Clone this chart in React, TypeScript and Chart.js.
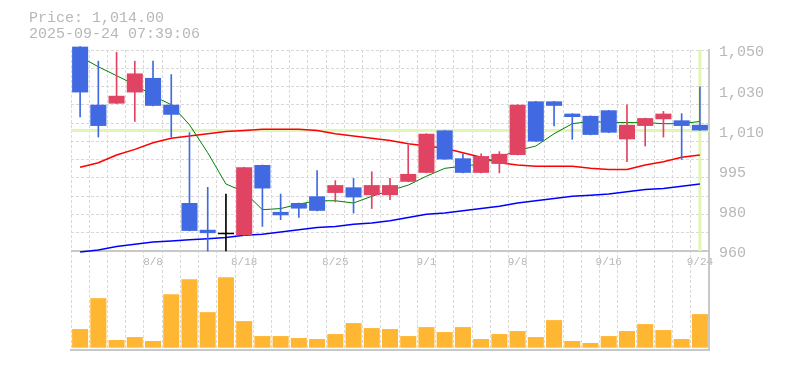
import React, { useEffect, useRef } from 'react';
import { Chart, registerables } from 'chart.js';

Chart.register(...registerables);

// ---- data ----
const dates = ['8/4', '8/5', '8/6', '8/7', '8/8', '8/12', '8/13', '8/14', '8/15', '8/18', '8/19', '8/20', '8/21', '8/22', '8/25', '8/26', '8/27', '8/28', '8/29', '9/1', '9/2', '9/3', '9/4', '9/5', '9/8', '9/9', '9/10', '9/11', '9/12', '9/16', '9/17', '9/18', '9/19', '9/22', '9/24'];
const opens = [1051.5, 1025.5, 1026, 1031, 1037.5, 1025.5, 981.5, 969.5, 967.5, 967, 998.5, 977.5, 981.5, 984.5, 986, 988.5, 985, 985, 991, 995, 1014, 1001.5, 995, 999, 1003, 1027, 1027, 1021.5, 1020.5, 1023, 1010, 1016, 1019, 1018.5, 1016.5];
const highs = [1051.5, 1045, 1049, 1045, 1045, 1039, 1013, 988.5, 985.5, 997.5, 998.5, 985.5, 981.5, 996, 991.5, 992.5, 995.5, 992.5, 1007.5, 1012.5, 1014, 1003.5, 1003.5, 1004.5, 1025.5, 1027, 1027, 1021.5, 1020.5, 1023, 1025.5, 1019.5, 1022.5, 1021.5, 1033.5];
const lows = [1020, 1011, 1026, 1018, 1025, 1011, 969, 960, 960, 967, 971, 974, 975, 978, 982, 977, 979, 983, 991, 995, 1001, 995, 995, 995, 1003, 1009, 1016, 1010, 1012, 1013, 1000, 1007, 1011, 1001, 1014];
const closes = [1031, 1016, 1029.5, 1039.5, 1025, 1021, 969, 968, 967.5, 997.5, 988, 976, 979, 978, 989.5, 984, 989.5, 989.5, 994.5, 1012.5, 1001, 995, 1002.5, 1003.5, 1025.5, 1009, 1025, 1020, 1012, 1013, 1016.5, 1019.5, 1021.5, 1016, 1014];
const volumes = [18700, 49700, 7700, 10700, 6700, 53700, 68700, 35700, 70700, 26700, 11700, 11700, 9700, 8700, 13700, 24700, 19700, 18700, 11700, 20700, 15700, 20700, 8700, 13700, 16700, 10700, 27700, 6700, 4700, 11700, 16700, 23700, 17700, 8700, 33700];
const ma5 = [1047, 1042.5, 1038.5, 1034.5, 1029.5, 1025.5, 1016.5, 1004, 990, 986.5, 978.5, 979, 981, 982.5, 982.5, 981.5, 984.5, 987, 989.5, 993.5, 997, 998, 999, 1002, 1005, 1007, 1012.5, 1017, 1018, 1017.5, 1017.5, 1017.5, 1017, 1017, 1018];
const ma25 = [997.5, 999.5, 1003, 1005.5, 1008.5, 1010.5, 1011.5, 1012.5, 1013.5, 1014, 1014.5, 1014.5, 1014.5, 1014, 1012.5, 1011.5, 1010.5, 1009.5, 1008, 1007, 1006, 1004, 1002, 999.5, 998.5, 998, 998, 998, 997, 996.5, 996.5, 998.5, 1000, 1002, 1003];
const ma75 = [959.5, 960.5, 962, 963, 964, 964.5, 965, 965.5, 966, 967, 967.5, 968.5, 969.5, 970.5, 971, 972, 972.5, 973.5, 975, 976.5, 977, 978, 979, 980, 981.5, 982.5, 983.5, 984.5, 985, 985.5, 986.5, 987.5, 988, 989, 990];

const yTickValues = [1050, 1032, 1014, 996, 978, 960];
const yTickLabels = ['1,050', '1,030', '1,010', '995', '980', '960'];
const xTickLabels = ['8/8', '8/18', '8/25', '9/1', '9/8', '9/16', '9/24'];
const titleLines = ['Price: 1,014.00', '2025-09-24 07:39:06'];
const currentPrice = 1014;
const currentDate = '9/24';
const priceMin = 960;
const priceMax = 1050;
const volMin = -2300;
const volMax = 97000;

// ---- styles ----
const UP = '#e04462';
const DOWN = '#4169e1';
const EVEN = '#000000';
const GRID = '#d9d9d9';
const AXIS = '#c8c8c8';
const TEXT = '#b8b8b8';
const NOW = '#e3f5b3';
const VOL = '#ffb733';
const MONO = "'Liberation Mono', monospace";

export default function App() {
  const ref = useRef<HTMLCanvasElement>(null);

  useEffect(() => {
    const canvas = ref.current;
    if (!canvas) return;
    const colors = opens.map((o, i) => (closes[i] > o ? UP : closes[i] < o ? DOWN : EVEN));
    const bodies = opens.map((o, i) => [o, closes[i]]);
    const wicks = lows.map((l, i) => [l, highs[i]]);
    const gridValues = Array.from({ length: 12 }, (_, k) => priceMin + ((priceMax - priceMin) * k) / 11);

    const decor = {
      id: 'decor',
      beforeDraw(chart: any) {
        const ctx = chart.ctx;
        const xs = chart.scales.x;
        const yv = chart.scales.yVol;
        ctx.save();
        ctx.fillStyle = TEXT;
        ctx.font = `15px ${MONO}`;
        ctx.textAlign = 'left';
        ctx.textBaseline = 'alphabetic';
        titleLines.forEach((t, i) => ctx.fillText(t, 29, 22 + i * 15.5));
        ctx.font = `11px ${MONO}`;
        ctx.textAlign = 'center';
        ctx.textBaseline = 'middle';
        dates.forEach((d, i) => {
          if (xTickLabels.includes(d)) ctx.fillText(d, xs.getPixelForValue(i), yv.top + 11);
        });
        ctx.restore();
      },
      beforeDatasetsDraw(chart: any) {
        const ctx = chart.ctx;
        const xs = chart.scales.x;
        const ys = chart.scales.y;
        const area = chart.chartArea;
        ctx.save();
        ctx.strokeStyle = NOW;
        ctx.lineWidth = 3;
        const py = ys.getPixelForValue(currentPrice);
        ctx.beginPath();
        ctx.moveTo(area.left, py);
        ctx.lineTo(area.right, py);
        ctx.stroke();
        const px = xs.getPixelForValue(dates.indexOf(currentDate));
        ctx.beginPath();
        ctx.moveTo(px, ys.top);
        ctx.lineTo(px, ys.bottom);
        ctx.stroke();
        ctx.restore();
      },
    };

    const chart = new Chart(canvas, {
      type: 'bar',
      data: {
        labels: dates,
        datasets: [
          { type: 'line', data: ma75, yAxisID: 'y', borderColor: '#0000ff', borderWidth: 1.5, pointRadius: 0, tension: 0, fill: false, clip: false, order: 6 } as any,
          { type: 'line', data: ma25, yAxisID: 'y', borderColor: '#ff0000', borderWidth: 1.5, pointRadius: 0, tension: 0, fill: false, clip: false, order: 5 } as any,
          { type: 'line', data: ma5, yAxisID: 'y', borderColor: '#008000', borderWidth: 1, pointRadius: 0, tension: 0, fill: false, clip: false, order: 4 } as any,
          { type: 'bar', data: wicks, yAxisID: 'y', backgroundColor: colors, barThickness: 1, grouped: false, clip: false, order: 3 } as any,
          { type: 'bar', data: bodies, yAxisID: 'y', backgroundColor: colors, categoryPercentage: 1, barPercentage: 0.88, minBarLength: 1.5, grouped: false, clip: false, order: 2 } as any,
          { type: 'bar', data: volumes, yAxisID: 'yVol', backgroundColor: VOL, categoryPercentage: 1, barPercentage: 0.88, grouped: false, order: 1 } as any,
        ],
      },
      options: {
        responsive: false,
        animation: false,
        events: [],
        layout: { autoPadding: false, padding: { left: 71, top: 50, right: 0, bottom: 20 } },
        plugins: { legend: { display: false }, tooltip: { enabled: false }, title: { display: false } },
        scales: {
          x: {
            type: 'category',
            offset: true,
            grid: { display: true, offset: true, drawTicks: false, color: GRID, lineWidth: 1 },
            border: { display: true, color: AXIS, width: 2, dash: [3, 2] },
            ticks: { display: false },
          },
          y: {
            type: 'linear',
            position: 'right',
            stack: 'panels',
            stackWeight: 201,
            min: priceMin,
            max: priceMax,
            afterBuildTicks: (scale: any) => {
              scale.ticks = [
                ...gridValues.map((v) => ({ value: v, isGrid: true })),
                ...yTickValues.map((v, i) => ({ value: v, lab: yTickLabels[i] })),
              ];
            },
            afterFit: (scale: any) => {
              scale.width = 76;
            },
            grid: {
              drawTicks: false,
              lineWidth: 1,
              color: (ctx: any) => (ctx.tick && ctx.tick.isGrid ? GRID : 'rgba(0,0,0,0)'),
            },
            border: { display: true, color: AXIS, width: 2, dash: [3, 2] },
            ticks: {
              autoSkip: false,
              padding: 10,
              labelOffset: 2.5,
              color: TEXT,
              font: { family: MONO, size: 15 },
              callback: (_v: any, i: number, ticks: any[]) => (ticks[i] && ticks[i].lab) || '',
            },
          } as any,
          yVol: {
            type: 'linear',
            position: 'right',
            stack: 'panels',
            stackWeight: 99,
            min: volMin,
            max: volMax,
            afterBuildTicks: (scale: any) => {
              scale.ticks = [{ value: volMax }];
            },
            afterFit: (scale: any) => {
              scale.width = 76;
            },
            grid: { drawTicks: false, lineWidth: 2, color: AXIS },
            border: { display: true, color: AXIS, width: 2 },
            ticks: { display: false },
          } as any,
        },
      },
      plugins: [decor],
    } as any);

    return () => chart.destroy();
  }, []);

  return (
    <div style={{ position: 'fixed', left: 0, top: 0, width: 785, height: 370, background: '#ffffff' }}>
      <canvas ref={ref} width={785} height={370} style={{ display: 'block', width: 785, height: 370 }} />
    </div>
  );
}
